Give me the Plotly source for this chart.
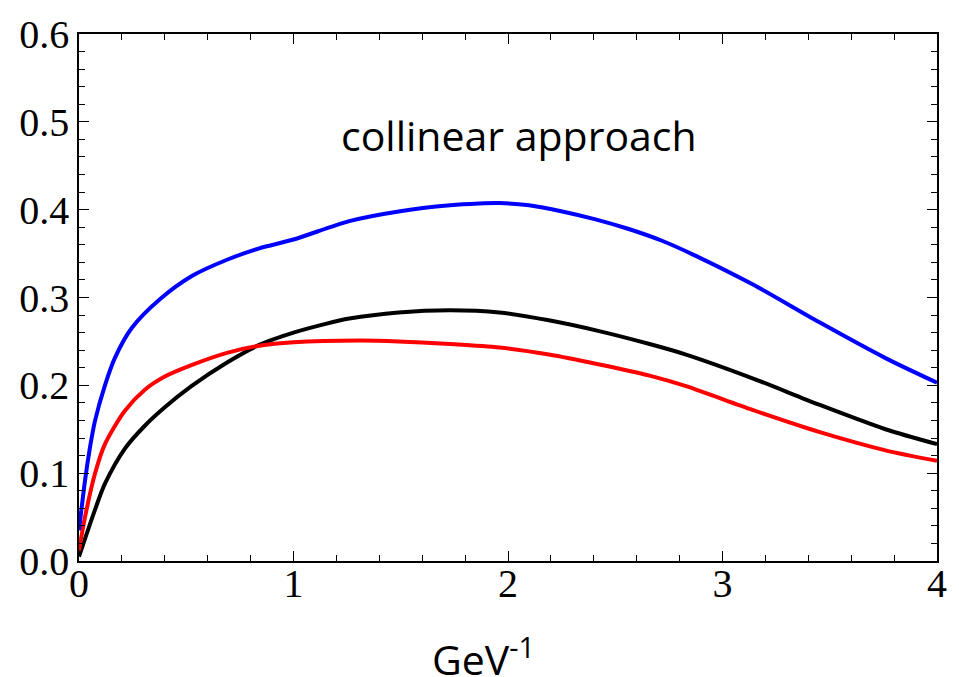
import plotly.graph_objects as go

blue_x = [0.0, 0.028, 0.051, 0.074, 0.121, 0.167, 0.245, 0.377, 0.53, 0.69, 0.84, 1.0, 1.26, 1.49, 1.73, 1.865, 1.96, 2.098, 2.253, 2.408, 2.563, 2.718, 2.873, 3.14, 3.45, 3.76, 4.0]
blue_y = [0.035, 0.0915, 0.129, 0.159, 0.200, 0.231, 0.265, 0.298, 0.325, 0.343, 0.356, 0.366, 0.387, 0.398, 0.405, 0.407, 0.4075, 0.405, 0.398, 0.389, 0.378, 0.3646, 0.3477, 0.315, 0.272, 0.231, 0.203]

red_x = [0.0, 0.028, 0.074, 0.121, 0.214, 0.307, 0.4, 0.524, 0.69, 0.84, 1.0, 1.31, 1.49, 1.73, 1.96, 2.19, 2.42, 2.66, 2.83, 3.14, 3.45, 3.76, 4.0]
red_y = [0.012, 0.05, 0.099, 0.133, 0.171, 0.195, 0.210, 0.223, 0.237, 0.245, 0.249, 0.251, 0.250, 0.247, 0.243, 0.235, 0.224, 0.211, 0.199, 0.172, 0.147, 0.126, 0.114]

black_x = [0.0, 0.074, 0.121, 0.214, 0.307, 0.4, 0.524, 0.69, 0.84, 1.0, 1.15, 1.26, 1.49, 1.73, 1.96, 2.19, 2.42, 2.66, 2.83, 3.14, 3.45, 3.76, 4.0]
black_y = [0.005, 0.058, 0.088, 0.128, 0.154, 0.175, 0.199, 0.226, 0.246, 0.260, 0.270, 0.276, 0.283, 0.2855, 0.283, 0.274, 0.262, 0.247, 0.235, 0.208, 0.178, 0.150, 0.133]

x_ticks = [0, 1, 2, 3, 4]
y_ticks = [0.0, 0.1, 0.2, 0.3, 0.4, 0.5, 0.6]
y_tick_labels = ["0.0", "0.1", "0.2", "0.3", "0.4", "0.5", "0.6"]

fig = go.Figure()
for xs, ys, col in [(black_x, black_y, "#000000"), (red_x, red_y, "#ff0000"), (blue_x, blue_y, "#0000ff")]:
    fig.add_trace(go.Scatter(x=xs, y=ys, mode="lines",
                             line=dict(color=col, width=4, shape="spline", smoothing=0.8),
                             showlegend=False, hoverinfo="skip"))

axis_common = dict(showgrid=False, zeroline=False, showline=True, linecolor="black", linewidth=1.5,
                   mirror="ticks", ticks="inside", ticklen=10, tickwidth=1.2, tickcolor="black",
                   tickfont=dict(family="Liberation Serif", size=40, color="black"))

fig.update_xaxes(range=[0, 4], tickvals=x_ticks, ticktext=[str(v) for v in x_ticks],
                 minor=dict(ticks="inside", ticklen=6, dtick=0.2, tickcolor="black", tickwidth=1, showgrid=False),
                 ticklabelstandoff=-14, **axis_common)
fig.update_yaxes(range=[0, 0.6], tickvals=y_ticks, ticktext=y_tick_labels,
                 minor=dict(ticks="inside", ticklen=6, dtick=0.02, tickcolor="black", tickwidth=1, showgrid=False),
                 **axis_common)

fig.add_annotation(x=2.05, y=0.485, xref="x", yref="y", text="collinear approach", showarrow=False,
                   font=dict(family="Open Sans", size=41, color="black"))
fig.add_annotation(x=0.472, y=-0.183, xref="paper", yref="paper", text="GeV<sup>-1</sup>", showarrow=False,
                   xanchor="center", yanchor="middle",
                   font=dict(family="Open Sans", size=41, color="black"))

fig.update_layout(width=959, height=677, margin=dict(l=79, r=20, t=30, b=116),
                  plot_bgcolor="white", paper_bgcolor="white")

fig.write_html("out.html")
